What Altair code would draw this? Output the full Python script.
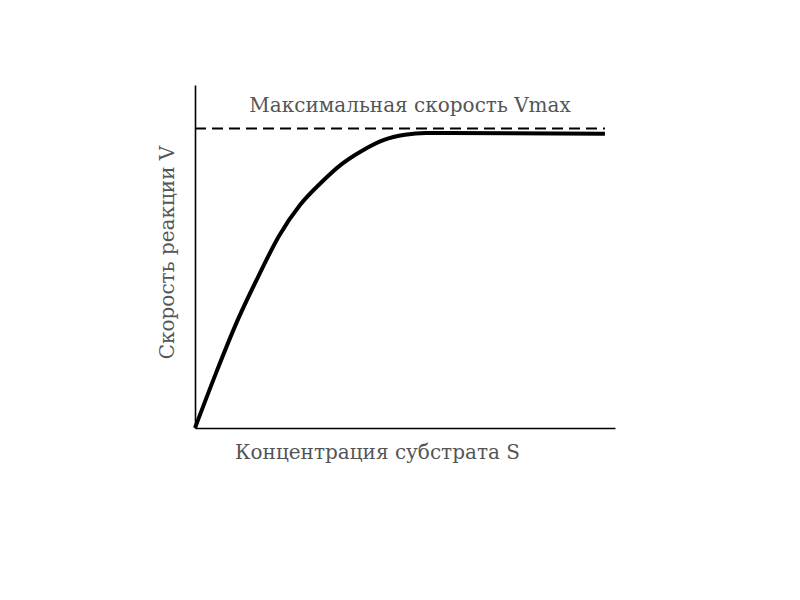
import altair as alt
import pandas as pd

# Curve: substrate concentration (x) vs reaction rate (y), arbitrary units 0..100
conc = [0, 5, 10, 15, 20, 25, 30, 35, 40, 45, 50, 55, 60, 97.6]
rate = [0, 16, 31, 44, 56, 65, 71.5, 77, 81, 84, 85.5, 86, 86, 85.8]
vmax = 87.3
vmax_x = [0, 97.6]
label_text = ["Максимальная скорость Vmax"]
label_x = [51.2]
label_y = [94.0]

curve = pd.DataFrame({"S": conc, "V": rate})
dash = pd.DataFrame({"S": vmax_x, "V": [vmax, vmax]})
lab = pd.DataFrame({"S": label_x, "V": label_y, "t": label_text})

FONT = "DejaVu Serif"
GRAY = "#555555"
FS = 20

xs = alt.Scale(domain=[0, 100], nice=False, zero=False)
ys = alt.Scale(domain=[0, 100], nice=False, zero=False)

xaxis = alt.Axis(title="Концентрация субстрата S", ticks=False, labels=False, grid=False,
                 domainColor="black", domainWidth=1.6,
                 titleFont=FONT, titleFontSize=FS, titleFontWeight="normal", titleColor=GRAY,
                 titleX=182, titleY=24, titleAlign="center", titleBaseline="middle", titleAnchor="start")
yaxis = alt.Axis(title="Скорость реакции V", ticks=False, labels=False, grid=False,
                 domainColor="black", domainWidth=1.6,
                 titleFont=FONT, titleFontSize=FS, titleFontWeight="normal", titleColor=GRAY,
                 titleX=-28, titleY=167, titleAlign="center", titleBaseline="middle", titleAngle=270,
                 titleAnchor="start")

line = alt.Chart(curve).mark_line(color="black", strokeWidth=4, interpolate="monotone").encode(
    x=alt.X("S:Q", scale=xs, axis=xaxis),
    y=alt.Y("V:Q", scale=ys, axis=yaxis),
)

dashed = alt.Chart(dash).mark_line(color="black", strokeWidth=2, strokeDash=[11, 6]).encode(
    x=alt.X("S:Q", scale=xs),
    y=alt.Y("V:Q", scale=ys),
)

text = alt.Chart(lab).mark_text(font=FONT, fontSize=FS, color=GRAY, align="center", baseline="middle").encode(
    x=alt.X("S:Q", scale=xs),
    y=alt.Y("V:Q", scale=ys),
    text="t:N",
)

chart = alt.layer(dashed, line, text).properties(
    width=420, height=343,
    autosize=alt.AutoSizeParams(type="none"),
    padding={"left": 187, "top": 77, "right": 10, "bottom": 100},
    background="white",
).configure_view(strokeWidth=0, stroke="transparent")

chart.save("out.html", embed_options={"renderer": "svg", "actions": False})
